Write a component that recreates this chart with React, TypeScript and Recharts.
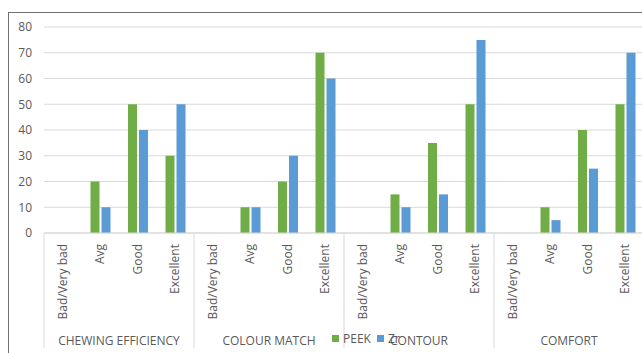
import React from 'react';
import { BarChart, Bar, XAxis, YAxis, CartesianGrid, Legend } from 'recharts';

const groups = ['CHEWING EFFICIENCY', 'COLOUR MATCH', 'CONTOUR', 'COMFORT'];
const ratings = ['Bad/Very bad', 'Avg', 'Good', 'Excellent'];
const peekValues = [0, 20, 50, 30, 0, 10, 20, 70, 0, 15, 35, 50, 0, 10, 40, 50];
const zrValues = [0, 10, 40, 50, 0, 10, 30, 60, 0, 10, 15, 75, 0, 5, 25, 70];
const yTicks = [0, 10, 20, 30, 40, 50, 60, 70, 80];

const seriesNames = ['PEEK', 'Zr'];
const colors = ['#70AD47', '#5B9BD5'];

const data = peekValues.map((v, i) => ({
  group: groups[Math.floor(i / 4)],
  rating: ratings[i % 4],
  PEEK: v,
  Zr: zrValues[i],
}));

const TEXT = '#595959';
const GRID = '#d9d9d9';
const BAND = 37.5;

const RatingTick = (props: any) => {
  const { x, y, payload, index } = props;
  const i = typeof index === 'number' ? index : payload.index;
  const group = data[i] ? data[i].group : '';
  return (
    <g>
      <text
        transform={`translate(${x},${y + 11}) rotate(-90)`}
        textAnchor="end"
        dy="0.35em"
        fill={TEXT}
        fontSize={12}
      >
        {payload.value}
      </text>
      {i % 4 === 0 && (
        <line x1={x - BAND / 2} x2={x - BAND / 2} y1={y} y2={y + 115} stroke={GRID} strokeWidth={1} />
      )}
      {i % 4 === 1 && (
        <text x={x + BAND / 2} y={y + 112} textAnchor="middle" fill={TEXT} fontSize={12}>
          {group}
        </text>
      )}
    </g>
  );
};

const LegendContent = () => (
  <div style={{ display: 'flex', alignItems: 'center', fontSize: 12, lineHeight: '14px', color: TEXT, fontFamily: 'Open Sans' }}>
    {seriesNames.map((n, k) => (
      <div key={n} style={{ display: 'flex', alignItems: 'center', marginRight: 6 }}>
        <span style={{ display: 'inline-block', width: 7, height: 7, background: colors[k], marginRight: 4, marginTop: -2 }} />
        <span>{n}</span>
      </div>
    ))}
  </div>
);

export default function App() {
  return (
    <div
      style={{
        position: 'absolute',
        left: 8,
        top: 12,
        width: 633,
        height: 340,
        overflow: 'hidden',
        borderTop: '1px solid #707070',
        borderLeft: '1px solid #707070',
        background: '#fff',
        fontFamily: 'Open Sans',
      }}
    >
      <BarChart
        width={640}
        height={340}
        data={data}
        margin={{ top: 14, right: 5, left: 0, bottom: 0 }}
        barCategoryGap="24%"
        barGap={2}
      >
        <CartesianGrid vertical={false} stroke={GRID} />
        <XAxis
          dataKey="rating"
          interval={0}
          height={120}
          tickLine={false}
          tickSize={0}
          tickMargin={0}
          axisLine={{ stroke: GRID }}
          tick={<RatingTick />}
        />
        <YAxis
          domain={[0, 80]}
          ticks={yTicks}
          width={35}
          axisLine={false}
          tickLine={false}
          tickSize={0}
          tickMargin={12}
          tick={{ fill: TEXT, fontSize: 12 }}
        />
        <Legend
          layout="horizontal"
          verticalAlign="middle"
          align="center"
          content={<LegendContent />}
          wrapperStyle={{ position: 'absolute', left: 323, top: 319, width: 'auto', height: 'auto' }}
        />
        <Bar dataKey="PEEK" name="PEEK" fill={colors[0]} isAnimationActive={false} />
        <Bar dataKey="Zr" name="Zr" fill={colors[1]} isAnimationActive={false} />
      </BarChart>
    </div>
  );
}
